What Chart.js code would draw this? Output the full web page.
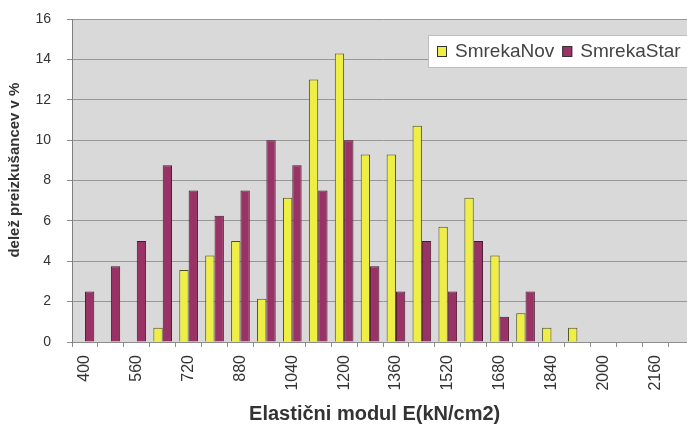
<!DOCTYPE html>
<html>
<head>
<meta charset="utf-8">
<script src="https://cdn.jsdelivr.net/npm/chart.js@4/dist/chart.umd.min.js"></script>
<style>
  html, body { margin: 0; padding: 0; background: #ffffff; overflow: hidden; width: 687px; height: 430px; }
  #wrap { width: 694px; height: 430px; }
</style>
</head>
<body>
<div id="wrap"><canvas id="c" width="694" height="430" style="width:694px;height:430px"></canvas></div>
<script>
// categories: elastic modulus classes (kN/cm2)
const categories = ['400','480','560','640','720','800','880','960','1040','1120','1200','1280','1360','1440','1520','1600','1680','1760','1840','1920','2000','2080','2160','2240'];
// share of specimens in %
const smrekaNov  = [0, 0, 0, 0.71, 3.57, 4.29, 5.0, 2.14, 7.14, 13.0, 14.29, 9.29, 9.29, 10.71, 5.71, 7.14, 4.29, 1.43, 0.71, 0.71, 0, 0, 0, 0];
const smrekaStar = [2.5, 3.75, 5.0, 8.75, 7.5, 6.25, 7.5, 10.0, 8.75, 7.5, 10.0, 3.75, 2.5, 5.0, 2.5, 5.0, 1.25, 2.5, 0, 0, 0, 0, 0, 0];
const seriesNames = ['SmrekaNov', 'SmrekaStar'];
const yTicks = [0, 2, 4, 6, 8, 10, 12, 14, 16];
const xTitle = 'Elastični modul E(kN/cm2)';
const yTitle = 'delež preizkušancev v %';

const COL_NOV = '#eeee44';
const COL_STAR = '#993366';
const FONT = "'Liberation Sans', Arial, sans-serif";

const plotBg = {
  id: 'plotBg',
  beforeDraw(chart) {
    const {ctx, chartArea: a} = chart;
    ctx.save();
    ctx.fillStyle = '#d9d9d9';
    ctx.fillRect(a.left, a.top, a.right - a.left, a.bottom - a.top);
    ctx.restore();
  }
};

const legendBox = {
  id: 'legendBox',
  afterDraw(chart) {
    const ctx = chart.ctx;
    ctx.save();
    ctx.fillStyle = '#ffffff';
    ctx.fillRect(428, 35, 280, 32);
    ctx.strokeStyle = '#bdbdbd';
    ctx.lineWidth = 1;
    ctx.strokeRect(428.5, 35.5, 280, 32);
    ctx.font = '19px ' + FONT;
    ctx.textBaseline = 'middle';
    ctx.textAlign = 'left';
    let x = 437;
    chart.data.datasets.forEach((ds, i) => {
      ctx.fillStyle = ds.backgroundColor;
      ctx.fillRect(x, 46, 10, 11);
      ctx.strokeStyle = '#333333';
      ctx.strokeRect(x + 0.5, 46.5, 9, 10);
      ctx.fillStyle = '#444444';
      ctx.fillText(ds.label, x + 18, 52);
      x += 18 + ctx.measureText(ds.label).width + 8;
    });
    ctx.restore();
  }
};

// titles nudged (by non-breaking spaces) to sit where the original places them
const yTitleShown = '\u00a0\u00a0\u00a0\u00a0\u00a0' + yTitle;
const xTitleShown = xTitle + '\u00a0\u00a0\u00a0';

new Chart(document.getElementById('c'), {
  type: 'bar',
  data: {
    labels: categories,
    datasets: [
      { label: seriesNames[0], data: smrekaNov, backgroundColor: COL_NOV, borderColor: '#4d4d20', borderWidth: 1 },
      { label: seriesNames[1], data: smrekaStar, backgroundColor: COL_STAR, borderColor: '#4a1530', borderWidth: 1 }
    ]
  },
  options: {
    responsive: false,
    devicePixelRatio: 1,
    animation: false,
    layout: { padding: { top: 19, left: 0, right: 0, bottom: 0 } },
    datasets: { bar: { categoryPercentage: 0.72, barPercentage: 1.0 } },
    plugins: { legend: { display: false }, tooltip: { enabled: false } },
    scales: {
      x: {
        afterFit(s) { s.height = 88; s.paddingRight = 0; s.paddingLeft = 0; },
        grid: { display: true, drawOnChartArea: false, drawTicks: true, tickLength: 5, tickColor: '#8c8c8c', offset: true },
        border: { display: true, color: '#8c8c8c', width: 1 },
        ticks: {
          autoSkip: false, minRotation: 90, maxRotation: 90, padding: 8,
          color: '#333333', font: { family: FONT, size: 16 },
          callback: (v, i) => (i % 2 === 0 ? categories[i] : '')
        },
        title: { display: true, text: xTitleShown, color: '#333333', font: { family: FONT, size: 20, weight: 'bold' }, padding: { top: 0, bottom: 4 } }
      },
      y: {
        min: 0, max: 16,
        afterFit(s) { s.width = 72; s.paddingTop = 0; s.paddingBottom = 0; },
        afterBuildTicks(s) { s.ticks = yTicks.map(v => ({ value: v })); },
        grid: { color: '#979797', lineWidth: 1, tickLength: 5, tickColor: '#8c8c8c' },
        border: { display: true, color: '#7f7f7f', width: 1 },
        ticks: { padding: 16, color: '#333333', font: { family: FONT, size: 14 } },
        title: { display: true, text: yTitleShown, color: '#333333', font: { family: FONT, size: 15, weight: 'bold' }, padding: { top: 6, bottom: 0 } }
      }
    }
  },
  plugins: [plotBg, legendBox]
});
</script>
</body>
</html>
